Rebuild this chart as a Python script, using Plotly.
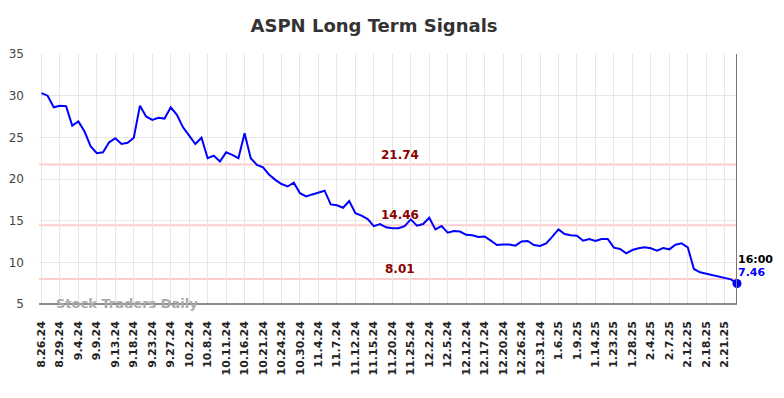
import plotly.graph_objects as go

dates = [
    "8.26.24", "8.27.24", "8.28.24", "8.29.24", "8.30.24", "9.3.24",
    "9.4.24", "9.5.24", "9.6.24", "9.9.24", "9.10.24", "9.11.24",
    "9.13.24", "9.16.24", "9.17.24", "9.18.24", "9.19.24", "9.20.24",
    "9.23.24", "9.24.24", "9.25.24", "9.27.24", "9.30.24", "10.1.24",
    "10.2.24", "10.3.24", "10.4.24", "10.8.24", "10.9.24", "10.10.24",
    "10.11.24", "10.14.24", "10.15.24", "10.16.24", "10.17.24", "10.18.24",
    "10.21.24", "10.22.24", "10.23.24", "10.24.24", "10.25.24", "10.28.24",
    "10.30.24", "10.31.24", "11.1.24", "11.4.24", "11.5.24", "11.6.24",
    "11.7.24", "11.8.24", "11.11.24", "11.12.24", "11.13.24", "11.14.24",
    "11.15.24", "11.18.24", "11.19.24", "11.20.24", "11.21.24", "11.22.24",
    "11.25.24", "11.26.24", "11.27.24", "12.2.24", "12.3.24", "12.4.24",
    "12.5.24", "12.6.24", "12.9.24", "12.12.24", "12.13.24", "12.16.24",
    "12.17.24", "12.18.24", "12.19.24", "12.20.24", "12.23.24", "12.24.24",
    "12.26.24", "12.27.24", "12.30.24", "12.31.24", "1.2.25", "1.3.25",
    "1.6.25", "1.7.25", "1.8.25", "1.9.25", "1.10.25", "1.13.25",
    "1.14.25", "1.15.25", "1.16.25", "1.23.25", "1.24.25", "1.27.25",
    "1.28.25", "1.29.25", "1.30.25", "2.4.25", "2.5.25", "2.6.25",
    "2.7.25", "2.10.25", "2.11.25", "2.12.25", "2.13.25", "2.14.25",
    "2.18.25", "2.19.25", "2.20.25", "2.21.25", "2.24.25", "2.25.25",
]

prices = [
    30.3, 30.0, 28.6, 28.8, 28.75, 26.4, 26.9, 25.7, 23.9, 23.1,
    23.2, 24.4, 24.9, 24.2, 24.35, 24.95, 28.8, 27.5, 27.1, 27.35,
    27.25, 28.6, 27.7, 26.2, 25.2, 24.2, 24.95, 22.5, 22.8, 22.1,
    23.2, 22.9, 22.5, 25.5, 22.5, 21.7, 21.4, 20.5, 19.9, 19.4,
    19.1, 19.55, 18.3, 17.9, 18.15, 18.35, 18.6, 16.95, 16.85, 16.55,
    17.35, 15.9, 15.6, 15.2, 14.35, 14.6, 14.2, 14.1, 14.1, 14.35,
    15.15, 14.4, 14.6, 15.35, 13.95, 14.35, 13.55, 13.75, 13.7, 13.3,
    13.25, 13.05, 13.1, 12.6, 12.08, 12.15, 12.15, 12.0, 12.5, 12.56,
    12.08, 11.96, 12.28, 13.08, 13.96, 13.4, 13.24, 13.2, 12.6, 12.8,
    12.56, 12.8, 12.8, 11.76, 11.6, 11.08, 11.48, 11.68, 11.8, 11.68,
    11.4, 11.72, 11.56, 12.12, 12.28, 11.8, 9.2, 8.8, 8.64, 8.4,
    8.28, 8.16, 7.96, 7.46,
]

tick_labels = dates[::3]
levels = [21.74, 14.46, 8.01]
level_labels = ["21.74", "14.46", "8.01"]
y_ticks = [5, 10, 15, 20, 25, 30, 35]
last_time = "16:00"
last_label = "7.46"

FONT = "DejaVu Sans"

fig = go.Figure()

fig.add_trace(go.Scatter(
    x=dates, y=prices, mode="lines",
    line=dict(color="#0000ff", width=2),
    hoverinfo="skip", showlegend=False,
))
fig.add_trace(go.Scatter(
    x=[dates[-1]], y=[prices[-1]], mode="markers",
    marker=dict(color="#0000ff", size=9),
    hoverinfo="skip", showlegend=False, cliponaxis=False,
))

shapes = []
for lv in levels:
    shapes.append(dict(type="line", xref="paper", x0=0, x1=1, yref="y", y0=lv, y1=lv,
                       line=dict(color="#ffcccc", width=2), layer="below"))
shapes.append(dict(type="line", xref="x", x0=dates[-1], x1=dates[-1], yref="paper", y0=0, y1=1,
                   line=dict(color="#777777", width=2)))
shapes.append(dict(type="line", xref="paper", x0=0, x1=1, yref="paper", y0=0, y1=0,
                   line=dict(color="#666666", width=1.5)))

annotations = []
for lv, lab in zip(levels, level_labels):
    annotations.append(dict(x=0.517, xref="paper", y=lv, yref="y", text=lab,
                            showarrow=False, xanchor="center", yanchor="bottom", yshift=1,
                            font=dict(family=FONT, size=12, color="#8b0000", weight="bold")))
annotations.append(dict(x=dates[-1], xref="x", y=prices[-1], yref="y", text=last_time,
                        showarrow=False, xanchor="left", yanchor="middle", xshift=-1, yshift=24,
                        font=dict(family=FONT, size=11, color="#000000", weight="bold")))
annotations.append(dict(x=dates[-1], xref="x", y=prices[-1], yref="y", text=last_label,
                        showarrow=False, xanchor="left", yanchor="middle", xshift=-1, yshift=11,
                        font=dict(family=FONT, size=11, color="#0000ff", weight="bold")))
annotations.append(dict(x=0.021, xref="paper", y=0, yref="paper", text="Stock Traders Daily",
                        showarrow=False, xanchor="left", yanchor="middle", yshift=1,
                        font=dict(family=FONT, size=13, color="#aaaaaa", weight="bold")))

fig.update_layout(
    width=784, height=398,
    margin=dict(l=31, r=55, t=46, b=102),
    paper_bgcolor="white", plot_bgcolor="white",
    title=dict(text="ASPN Long Term Signals", x=0.48, xref="paper", xanchor="center",
               y=1, yref="container", yanchor="top", pad=dict(t=11),
               font=dict(family=FONT, size=18, color="#333333", weight="bold")),
    shapes=shapes, annotations=annotations,
    showlegend=False,
)
fig.update_xaxes(
    type="category", range=[-0.4, len(dates) - 1], automargin=False,
    tickmode="array", tickvals=tick_labels, ticktext=tick_labels,
    tickangle=-90, ticklabelstandoff=14,
    tickfont=dict(family=FONT, size=11, color="#222222", weight="bold"),
    showgrid=True, gridcolor="#e6e6e6", gridwidth=1,
    showline=False, zeroline=False, ticks="",
)
fig.update_yaxes(
    range=[5, 35], tickmode="array", tickvals=y_ticks, automargin=False,
    ticklabelstandoff=14,
    tickfont=dict(family=FONT, size=12, color="#444444"),
    showgrid=True, gridcolor="#e6e6e6", gridwidth=1,
    showline=False, zeroline=False, ticks="",
)

fig.write_html("out.html")
